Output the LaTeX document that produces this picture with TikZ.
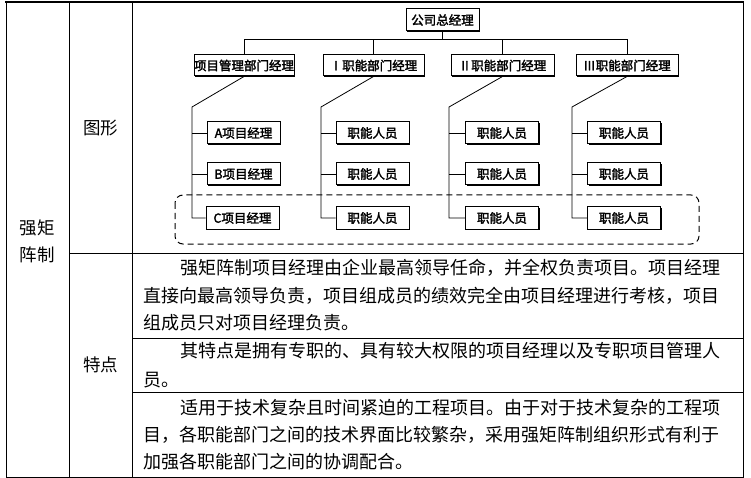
\documentclass[tikz,border=0pt]{standalone}
\usepackage{fontspec}
\setmainfont{Liberation Serif}
\newfontfamily\cjk{Noto Sans CJK SC}
\newfontfamily\cjkb[FakeBold=2.2]{Noto Sans CJK SC}
\usetikzlibrary{shadows}
\tikzset{
  orgbox/.style={draw, line width=1pt, fill=white, inner sep=0pt, minimum height=22pt,
    font=\cjkb\fontsize{12.5pt}{12.5pt}\selectfont,
    drop shadow={shadow xshift=1.2pt, shadow yshift=-1.2pt, opacity=1, fill=black}},
  conn/.style={line width=0.8pt},
  gridline/.style={line width=0.8pt},
  bodytext/.style={anchor=west, inner sep=0pt, font=\cjk\fontsize{18pt}{18pt}\selectfont},
  celltext/.style={inner sep=0pt, font=\cjk\fontsize{17.5pt}{17.5pt}\selectfont},
}
\begin{document}
\begin{tikzpicture}[x=1pt,y=-1pt]
\useasboundingbox (0,0) rectangle (751,478);
% table grid
\draw[line width=2pt] (5,2.5) -- (744,2.5);
\draw[gridline] (6,2) -- (6,477) -- (743,477) -- (743,2);
\draw[gridline] (69,2) -- (69,477);
\draw[gridline] (132,2) -- (132,477);
\draw[gridline] (69,253) -- (743,253);
\draw[gridline] (132,338) -- (743,338);
\draw[gridline] (132,392) -- (743,392);
% cell labels
\node[celltext] (c1) at (37,228) {强矩};
\node[celltext] (c2) at (37,255) {阵制};
\node[celltext] (c3) at (100.5,128) {图形};
\node[celltext] (c4) at (100.5,365) {特点};
% body text
\node[bodytext] (l1) at (180,268) {强矩阵制项目经理由企业最高领导任命，并全权负责项目。项目经理};
\node[bodytext] (l2) at (143.5,296) {直接向最高领导负责，项目组成员的绩效完全由项目经理进行考核，项目};
\node[bodytext] (l3) at (143.5,323) {组成员只对项目经理负责。};
\node[bodytext] (l4) at (180,351) {其特点是拥有专职的、具有较大权限的项目经理以及专职项目管理人};
\node[bodytext] (l5) at (143.5,380) {员。};
\node[bodytext] (l6) at (180,408) {适用于技术复杂且时间紧迫的工程项目。由于对于技术复杂的工程项};
\node[bodytext] (l7) at (143.5,435) {目，各职能部门之间的技术界面比较繁杂，采用强矩阵制组织形式有利于};
\node[bodytext] (l8) at (143.5,462) {加强各职能部门之间的协调配合。};
% org chart
\node[orgbox, minimum width=73pt] (gm) at (442.5,20) {公司总经理};
\node[orgbox, minimum width=98pt, minimum height=21pt] (p0) at (244,65.5) {项目管理部门经理};
\node[orgbox, minimum width=101pt, minimum height=21pt] (p1) at (373.5,65.5) {Ⅰ职能部门经理};
\node[orgbox, minimum width=103pt, minimum height=21pt] (p2) at (502.5,65.5) {Ⅱ职能部门经理};
\node[orgbox, minimum width=102pt, minimum height=21pt] (p3) at (627,65.5) {Ⅲ职能部门经理};
\coordinate (bus) at (0,39);
\draw[conn] (gm.south) -- (gm.south |- bus);
\draw[conn] (p0.north |- bus) -- (p3.north |- bus);
\foreach \p in {p0,p1,p2,p3} {\draw[conn] (\p.north) -- (\p.north |- bus);}
% staff boxes
\node[orgbox, minimum width=73pt] (a0) at (243.5,133) {A项目经理};
\node[orgbox, minimum width=73pt] (b0) at (243.5,174) {B项目经理};
\node[orgbox, minimum width=73pt] (e0) at (242.5,218) {C项目经理};
\foreach \i/\cx in {1/372.5,2/502,3/624} {
  \node[orgbox, minimum width=73pt] (a\i) at (\cx,133) {职能人员};
  \node[orgbox, minimum width=73pt] (b\i) at (\cx,174) {职能人员};
  \node[orgbox, minimum width=73pt] (e\i) at (\cx,218) {职能人员};
}
\coordinate (t0) at (192,107);
\coordinate (t1) at (321,107);
\coordinate (t2) at (449,107);
\coordinate (t3) at (572,107);
\foreach \i in {0,1,2,3} {
  \draw[conn] (p\i.south) -- (t\i) -- (t\i |- e\i.west) -- (e\i.west);
  \draw[conn] (t\i |- a\i.west) -- (a\i.west);
  \draw[conn] (t\i |- b\i.west) -- (b\i.west);
}
\draw[line width=1pt, dash pattern=on 6pt off 4pt, rounded corners=8pt] (175,195) rectangle (699,244);
\end{tikzpicture}
\end{document}
